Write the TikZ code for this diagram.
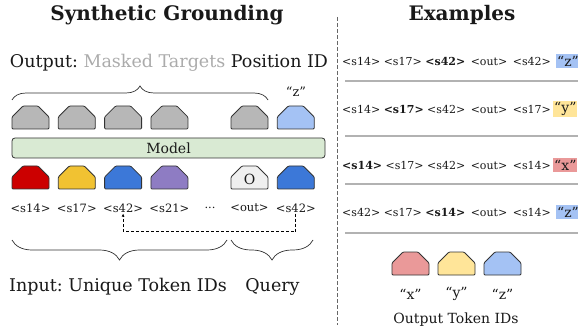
\documentclass[tikz,border=0pt]{standalone}
\usepackage{fontspec}
\setmainfont{DejaVu Serif}
\frenchspacing
\usetikzlibrary{arrows.meta,decorations.pathreplacing}
\definecolor{tokred}{HTML}{CC0000}
\definecolor{tokyellow}{HTML}{F1C232}
\definecolor{tokblue}{HTML}{3C78D8}
\definecolor{tokpurple}{HTML}{8E7CC3}
\definecolor{tokwhite}{HTML}{EFEFEF}
\definecolor{tokgray}{HTML}{B7B7B7}
\definecolor{outblue}{HTML}{A4C2F4}
\definecolor{outred}{HTML}{EA9999}
\definecolor{outyellow}{HTML}{FFE599}
\definecolor{modelgreen}{HTML}{D9EAD3}
\definecolor{inkgray}{HTML}{333333}
\tikzset{
	token/.style={draw=inkgray, line width=0.8pt, rounded corners=1pt, line join=round},
	tlabel/.style={font=\fontsize{11.5}{12}\selectfont, inner sep=1pt},
	qlabel/.style={font=\fontsize{14}{14}\selectfont, inner sep=1pt},
	head/.style={font=\fontsize{17.5}{20}\selectfont},
	exrow/.style={font=\fontsize{11}{12}\selectfont, anchor=west, inner sep=0pt},
	hl/.style={fill=#1, font=\fontsize{14}{14}\selectfont, anchor=west, inner xsep=1pt, inner ysep=1.5pt},
	sepline/.style={line width=1.6pt, color=black!30},
	bracebig/.style={decorate, decoration={brace, amplitude=#1}, line width=0.7pt, color=inkgray},
	link/.style={densely dashed, line width=0.8pt, -{Latex[length=3pt,width=3pt]}}
}
\def\token[#1](#2,#3){\draw[token,#1] (#2-18.5,#3) -- (#2+18.5,#3) -- (#2+18.5,#3-12) -- (#2+7.5,#3-23) -- (#2-7.5,#3-23) -- (#2-18.5,#3-12) -- cycle;}
\def\gap{\hspace{2pt}}

\begin{document}
\begin{tikzpicture}[x=1pt, y=-1pt, text=black!90]
		%%%%% START %%%%%
		\useasboundingbox (0,0) rectangle (578,331);
		
		% left half
		\node[font=\fontsize{20}{22}\selectfont\bfseries] (title) at (167,15) {Synthetic Grounding};
		\node[head] (outhead) at (169,63) {Output: {\color{black!33}Masked Targets} Position ID};
		\draw[bracebig=14pt] (12,100) -- (268,100);
		\node[tlabel, font=\fontsize{13}{14}\selectfont] (zq) at (296,92) {“z”};
		
		\token[fill=tokgray](30.5,129)
		\token[fill=tokgray](76.8,129)
		\token[fill=tokgray](123.1,129)
		\token[fill=tokgray](169.4,129)
		\token[fill=tokgray](249.5,129)
		\token[fill=outblue](295.8,129)
		
		\draw[fill=modelgreen, draw=inkgray, line width=0.8pt, rounded corners=3pt] (12,138) rectangle (325,158);
		\node[font=\fontsize{14}{14}\selectfont] (model) at (168.5,148) {Model};
		
		\token[fill=tokred](30.5,189)
		\token[fill=tokyellow](76.8,189)
		\token[fill=tokblue](123.1,189)
		\token[fill=tokpurple](169.4,189)
		\token[fill=tokwhite](249.5,189)
		\token[fill=tokblue](295.8,189)
		\node[font=\fontsize{14}{14}\selectfont] (oletter) at (249.5,179) {O};
		
		\node[tlabel] (l14) at (30.5,208) {<s14>};
		\node[tlabel] (l17) at (76.8,208) {<s17>};
		\node[tlabel] (l42) at (123.1,208) {<s42>};
		\node[tlabel] (l21) at (169.4,208) {<s21>};
		\node[tlabel] (ldots) at (210,208) {...};
		\node[tlabel] (lout) at (249.5,208) {<out>};
		\node[tlabel] (lq) at (295.8,208) {<s42>};
		\draw[link] (lq.south) -- ++(0,18) -| (l42.south);
		
		\draw[bracebig=20pt] (227,240) -- (12,240);
		\draw[bracebig=20pt] (313,240) -- (231,240);
		\node[head] (inhead) at (118,287) {Input: Unique Token IDs};
		\node[head] (query) at (272.5,287) {Query};
		
		% divider
		\draw[line width=1pt, color=black!60, dash pattern=on 4pt off 2pt] (337,17) -- (337,325);
		
		% right half
		\node[font=\fontsize{20}{22}\selectfont\bfseries] (extitle) at (462,15) {Examples};
		
		\node[exrow] (ex1) at (342,61) {<s14> <s17> \textbf{<s42>} \gap<out> \gap<s42>};
		\node[hl=outblue] (ex1z) at (556,61) {“z”};
		\draw[sepline] (345,81) -- (578,81);
		
		\node[exrow] (ex2) at (342,109) {<s14> \textbf{<s17>} <s42> \gap<out> \gap<s17>};
		\node[hl=outyellow] (ex2y) at (553,109) {“y”};
		\draw[sepline] (345,136) -- (578,136);
		
		\node[exrow] (ex3) at (342,165) {\textbf{<s14>} <s17> <s42> \gap<out> \gap<s14>};
		\node[hl=outred] (ex3x) at (553,165) {“x”};
		\draw[sepline] (345,184) -- (578,184);
		
		\node[exrow] (ex4) at (342,212) {<s42> <s17> \textbf{<s14>} \gap<out> \gap<s14>};
		\node[hl=outblue] (ex4z) at (556,212) {“z”};
		\draw[sepline] (345,233) -- (578,233);
		
		\token[fill=outred](410.5,275)
		\token[fill=outyellow](456.5,275)
		\token[fill=outblue](502.5,275)
		\node[qlabel] (lx) at (410.5,294) {“x”};
		\node[qlabel] (ly) at (456.5,294) {“y”};
		\node[qlabel] (lz) at (502.5,294) {“z”};
		\node[font=\fontsize{14}{16}\selectfont] (legend) at (456,320) {Output Token IDs};
		
		%%%%% END %%%%%
	\end{tikzpicture}
\end{document}
